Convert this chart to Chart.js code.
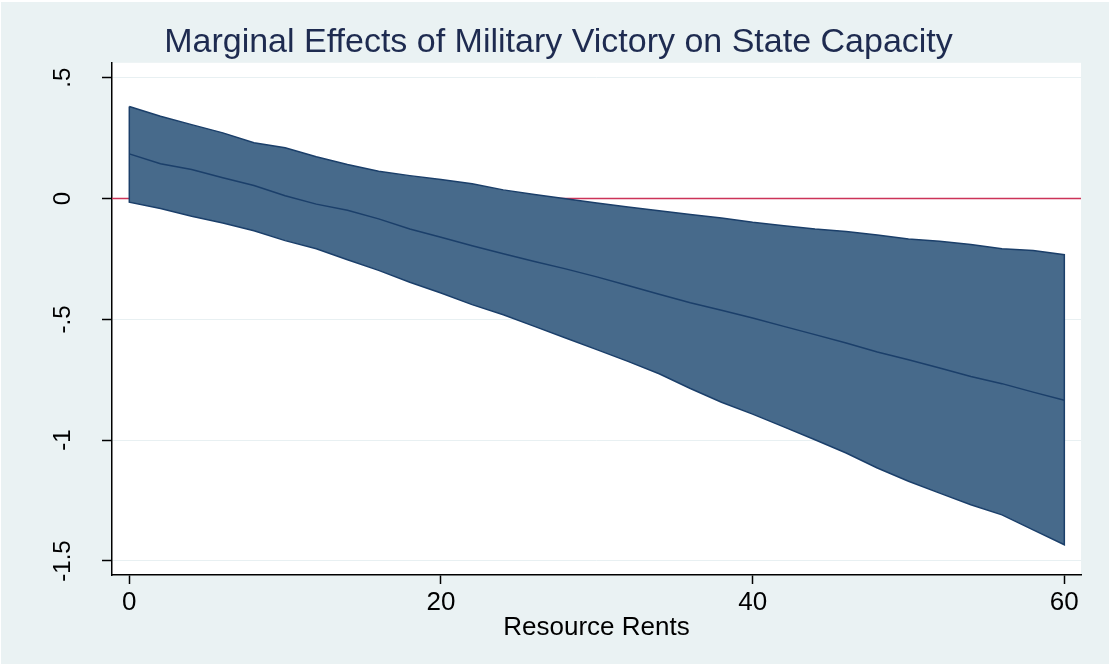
<!DOCTYPE html>
<html>
<head>
<meta charset="utf-8">
<script src="https://cdn.jsdelivr.net/npm/chart.js@4/dist/chart.umd.min.js"></script>
<style>
  html, body { margin: 0; padding: 0; background: #ffffff; }
  canvas { display: block; }
</style>
</head>
<body>
<canvas id="chart" width="1109" height="664"></canvas>
<script>
// Resource rents (x) and the estimated marginal effect with its confidence band
const rents = [0, 2, 4, 6, 8, 10, 12, 14, 16, 18, 20, 22, 24, 26, 28, 30,
               32, 34, 36, 38, 40, 42, 44, 46, 48, 50, 52, 54, 56, 58, 60];
const effect = [0.185, 0.144, 0.120, 0.086, 0.054, 0.012, -0.023, -0.048, -0.084, -0.126, -0.160,
                -0.195, -0.228, -0.260, -0.291, -0.324, -0.360, -0.396, -0.431, -0.462, -0.494,
                -0.529, -0.563, -0.598, -0.635, -0.667, -0.701, -0.736, -0.766, -0.801, -0.835];
const upperCI = [0.381, 0.341, 0.306, 0.272, 0.231, 0.210, 0.173, 0.141, 0.113, 0.095, 0.079,
                 0.061, 0.036, 0.017, -0.001, -0.018, -0.035, -0.050, -0.066, -0.080, -0.098,
                 -0.112, -0.126, -0.136, -0.151, -0.167, -0.177, -0.190, -0.208, -0.215, -0.232];
const lowerCI = [-0.015, -0.041, -0.073, -0.101, -0.133, -0.174, -0.208, -0.253, -0.297, -0.346, -0.391,
                 -0.439, -0.481, -0.529, -0.577, -0.625, -0.674, -0.725, -0.786, -0.843, -0.892,
                 -0.945, -0.998, -1.053, -1.115, -1.170, -1.219, -1.267, -1.309, -1.371, -1.433];

const xTickValues = [0, 20, 40, 60];
const yTickValues = [-1.5, -1, -0.5, 0, 0.5];
const yTickLabels = ['-1.5', '-1', '-.5', '0', '.5'];

const FONT = "'Liberation Sans', Arial, Helvetica, sans-serif";
const BAND = '#476a8b';
const NAVY = '#1b3f6a';

// band outline: upper bound left->right, lower bound right->left, closed
const bandPts = [];
rents.forEach((r, i) => bandPts.push({ x: r, y: upperCI[i] }));
for (let i = rents.length - 1; i >= 0; i--) bandPts.push({ x: rents[i], y: lowerCI[i] });
bandPts.push({ x: rents[0], y: upperCI[0] });

const effectPts = rents.map((r, i) => ({ x: r, y: effect[i] }));

// background, white plot region and the red zero line
const stataBg = {
  id: 'stataBg',
  beforeDraw(chart) {
    const { ctx, chartArea: a, width, height } = chart;
    ctx.save();
    ctx.fillStyle = '#ffffff';
    ctx.fillRect(0, 0, width, height);
    ctx.fillStyle = '#eaf2f3';
    ctx.fillRect(1, 2, width - 1, height - 2);
    ctx.fillStyle = '#ffffff';
    ctx.fillRect(a.left, a.top, a.right - a.left, a.bottom - a.top);
    ctx.restore();
  },
  beforeDatasetsDraw(chart) {
    const { ctx, chartArea: a, scales } = chart;
    const y0 = scales.y.getPixelForValue(0);
    ctx.save();
    ctx.strokeStyle = '#cc3358';
    ctx.lineWidth = 1.5;
    ctx.beginPath();
    ctx.moveTo(a.left, y0);
    ctx.lineTo(a.right, y0);
    ctx.stroke();
    ctx.restore();
  }
};

new Chart(document.getElementById('chart'), {
  type: 'scatter',
  data: {
    datasets: [
      {
        label: 'Marginal effect',
        data: effectPts,
        showLine: true,
        borderColor: NAVY,
        borderWidth: 1.5,
        pointRadius: 0,
        fill: false,
        order: 0
      },
      {
        label: '95% CI',
        data: bandPts,
        showLine: true,
        borderColor: NAVY,
        borderWidth: 1.5,
        backgroundColor: BAND,
        pointRadius: 0,
        fill: 'shape',
        order: 1
      }
    ]
  },
  options: {
    responsive: false,
    animation: false,
    layout: { padding: { left: 36, right: 28, top: 0, bottom: 0 } },
    plugins: {
      legend: { display: false },
      tooltip: { enabled: false },
      title: {
        display: true,
        text: 'Marginal Effects of Military Victory on State Capacity',
        color: '#1e2b50',
        font: { family: FONT, size: 34, weight: 'normal' },
        padding: { top: 22, bottom: 0 }
      }
    },
    scales: {
      x: {
        type: 'linear',
        min: -1.11,
        max: 61.07,
        afterBuildTicks: s => { s.ticks = xTickValues.map(v => ({ value: v })); },
        afterFit: s => { s.height = 89; },
        grid: { drawOnChartArea: false, drawTicks: true, tickLength: 9, tickColor: '#000', tickWidth: 1.5 },
        border: { display: true, color: '#000', width: 1.5 },
        ticks: { color: '#000', font: { family: FONT, size: 26 }, padding: 3, maxRotation: 0, autoSkip: false },
        title: {
          display: true,
          text: 'Resource Rents',
          color: '#000',
          font: { family: FONT, size: 26 },
          padding: { top: 0, bottom: 21 }
        }
      },
      y: {
        type: 'linear',
        min: -1.558,
        max: 0.562,
        afterBuildTicks: s => { s.ticks = yTickValues.map(v => ({ value: v })); },
        afterFit: s => { s.width = 76; },
        grid: { color: '#e8f0f2', lineWidth: 1, drawTicks: true, tickLength: 10, tickColor: '#000', tickWidth: 1.5 },
        border: { display: true, color: '#000', width: 1.5 },
        ticks: {
          color: '#000',
          font: { family: FONT, size: 24 },
          minRotation: 90,
          maxRotation: 90,
          crossAlign: 'center',
          padding: 18,
          autoSkip: false,
          callback: v => yTickLabels[yTickValues.indexOf(v)]
        }
      }
    }
  },
  plugins: [stataBg]
});
</script>
</body>
</html>
